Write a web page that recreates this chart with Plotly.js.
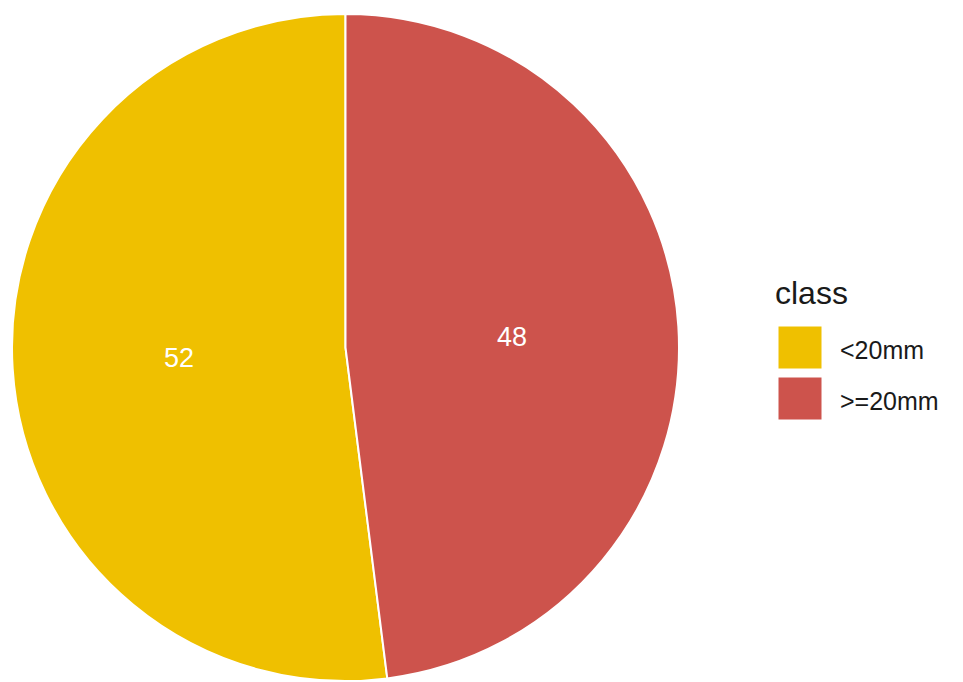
<!DOCTYPE html>
<html>
<head>
<meta charset="utf-8">
<script src="https://cdn.plot.ly/plotly-3.0.1.min.js"></script>
<style>html,body{margin:0;padding:0;background:#fff;}#chart{width:963px;height:682px;}</style>
</head>
<body>
<div id="chart"></div>
<script>
const categories = ["<20mm", ">=20mm"];
const values = [52, 48];
const colors = ["#EFC000", "#CD534C"];
const legendTitle = "class";

const W = 963, H = 682;
const px = x => x / W;
const py = y => 1 - y / H;
const total = values.reduce((a, b) => a + b, 0);

const trace = {
  type: "pie",
  labels: categories,
  values: values,
  sort: false,
  direction: "clockwise",
  rotation: 360 * values[1] / total,
  marker: { colors: colors, line: { color: "#ffffff", width: 2 } },
  textinfo: "value",
  textposition: "inside",
  insidetextorientation: "horizontal",
  textfont: { family: "Liberation Sans, Arial, sans-serif", size: 27, color: "#ffffff" },
  hoverinfo: "label+value",
  domain: { x: [px(12), px(679)], y: [py(681), py(14)] },
  showlegend: false
};

const shapes = [];
const annotations = [{
  text: legendTitle, xref: "paper", yref: "paper",
  x: px(773), y: py(293), xanchor: "left", yanchor: "middle",
  showarrow: false, font: { family: "Liberation Sans, Arial, sans-serif", size: 32, color: "#1a1a1a" }
}];
categories.forEach((c, i) => {
  const top = 326 + i * 51;
  shapes.push({
    type: "rect", xref: "paper", yref: "paper",
    x0: px(778), x1: px(822), y0: py(top + 43), y1: py(top),
    fillcolor: colors[i], line: { color: "#ffffff", width: 1 }
  });
  annotations.push({
    text: c, xref: "paper", yref: "paper",
    x: px(838), y: py(top + 24), xanchor: "left", yanchor: "middle",
    showarrow: false, font: { family: "Liberation Sans, Arial, sans-serif", size: 25, color: "#1a1a1a" }
  });
});

const layout = {
  width: W, height: H,
  margin: { l: 0, r: 0, t: 0, b: 0 },
  paper_bgcolor: "#ffffff",
  showlegend: false,
  shapes: shapes,
  annotations: annotations
};

Plotly.newPlot("chart", [trace], layout, { displayModeBar: false, staticPlot: true });
</script>
</body>
</html>
